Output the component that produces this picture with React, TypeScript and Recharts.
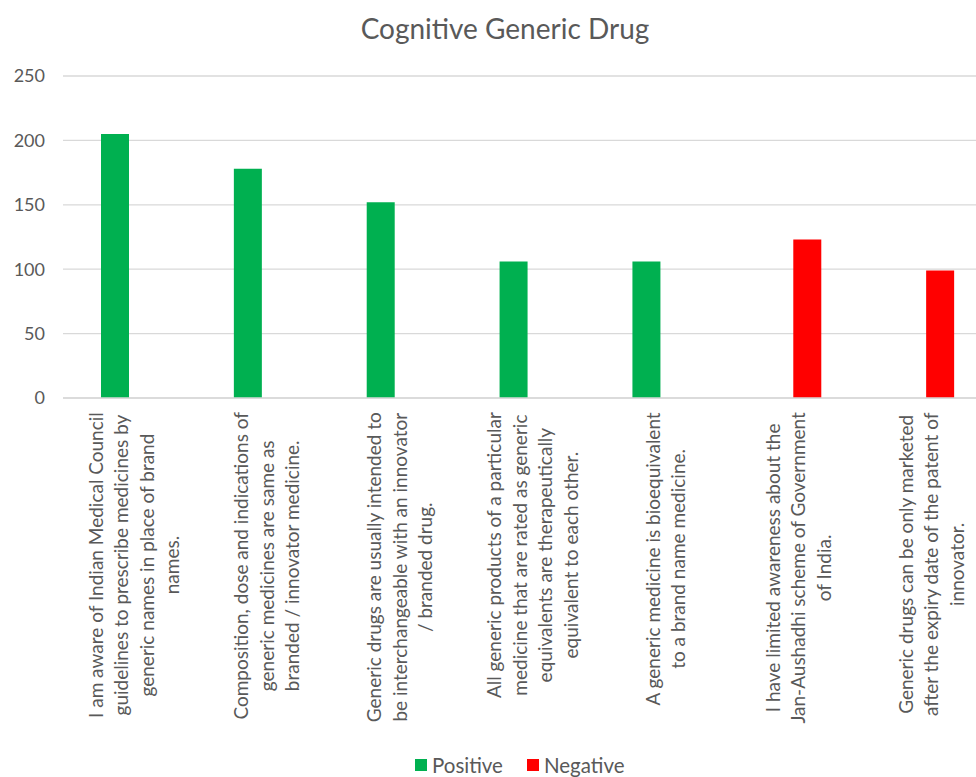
import React from 'react';
import { BarChart, Bar, XAxis, YAxis, CartesianGrid } from 'recharts';

// Survey statements (wrapped lines as printed under each bar)
const categories: string[][] = [
  ['I am aware of Indian Medical Council', 'guidelines to prescribe medicines by', 'generic names in place of brand', 'names.'],
  ['Composition, dose and indications of', 'generic medicines are same as', 'branded / innovator medicine.'],
  ['Generic drugs are usually intended to', 'be interchangeable with an innovator', '/ branded drug.'],
  ['All generic products of a particular', 'medicine that are rated as generic', 'equivalents are therapeutically', 'equivalent to each other.'],
  ['A generic medicine is bioequivalent', 'to a brand name medicine.'],
  ['I have limited awareness about the', 'Jan-Aushadhi scheme of Government', 'of India.'],
  ['Generic drugs can be only marketed', 'after the expiry date of the patent of', 'innovator.'],
];

const positive: (number | null)[] = [205, 178, 152, 106, 106, null, null];
const negative: (number | null)[] = [null, null, null, null, null, 123, 99];
const yTicks = [0, 50, 100, 150, 200, 250];

const seriesNames = ['Positive', 'Negative'];
const seriesColors = ['#00B050', '#FF0000'];

const data = categories.map((_, i) => ({
  key: String(i),
  Positive: positive[i],
  Negative: negative[i],
}));

const FONT = 'Lato, "Open Sans", sans-serif';
const TEXT = '#595959';
const LABEL_SIZE = 19;
const LINE_H = 25.5;

let ctx: CanvasRenderingContext2D | null = null;
function measure(s: string): number {
  if (!ctx) ctx = document.createElement('canvas').getContext('2d');
  if (!ctx) return s.length * LABEL_SIZE * 0.48;
  ctx.font = `${LABEL_SIZE}px Lato`;
  return ctx.measureText(s).width;
}

const CategoryTick = (props: any) => {
  const { x, y, payload } = props;
  const lines = categories[Number(payload.value)] || [];
  const maxW = Math.max(...lines.map(measure));
  const n = lines.length;
  return (
    <g transform={`translate(${x + 5}, ${y + 14}) rotate(-90)`}>
      {lines.map((ln, i) => (
        <text
          key={i}
          x={-maxW / 2}
          y={(i - (n - 1) / 2) * LINE_H}
          dy="0.35em"
          textAnchor="middle"
          fill={TEXT}
          fontSize={LABEL_SIZE}
          fontFamily={FONT}
        >
          {ln}
        </text>
      ))}
    </g>
  );
};

export default function App() {
  return (
    <div style={{ position: 'absolute', left: 0, top: 0, width: 976, height: 777, overflow: 'hidden', background: '#fff' }}>
      <BarChart
        width={993}
        height={777}
        data={data}
        margin={{ top: 76, right: 0, bottom: 39, left: 0 }}
        barSize={28}
        barGap={0}
      >
        <text x={505} y={28} textAnchor="middle" dominantBaseline="central" fontFamily={FONT} fontSize={28} fill={TEXT}>
          Cognitive Generic Drug
        </text>
        <CartesianGrid vertical={false} stroke="#d9d9d9" strokeWidth={1.3} />
        <XAxis
          dataKey="key"
          interval={0}
          height={340}
          tickSize={0}
          tickMargin={0}
          tick={<CategoryTick />}
          axisLine={{ stroke: '#d9d9d9', strokeWidth: 1.3 }}
          tickLine={false}
        />
        <YAxis
          width={63}
          domain={[0, 250]}
          ticks={yTicks}
          axisLine={false}
          tickLine={false}
          tickSize={0}
          tickMargin={18}
          tick={{ fill: TEXT, fontSize: 18, fontFamily: FONT }}
        />
        <Bar dataKey="Positive" fill={seriesColors[0]} isAnimationActive={false} />
        <Bar dataKey="Negative" fill={seriesColors[1]} isAnimationActive={false} />
      </BarChart>
      <div
        style={{
          position: 'absolute',
          left: 415,
          top: 753,
          height: 24,
          display: 'flex',
          gap: 24,
          fontFamily: FONT,
          fontSize: 20.5,
          lineHeight: '24px',
          color: TEXT,
          alignItems: 'center',
        }}
      >
        {seriesNames.map((name, i) => (
          <div key={name} style={{ display: 'flex', alignItems: 'center', gap: 5 }}>
            <span style={{ display: 'inline-block', width: 12, height: 12, background: seriesColors[i] }} />
            <span>{name}</span>
          </div>
        ))}
      </div>
    </div>
  );
}
